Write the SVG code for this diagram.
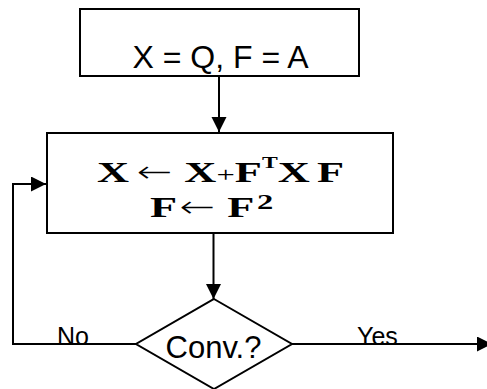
<svg xmlns="http://www.w3.org/2000/svg" width="487" height="389" viewBox="0 0 487 389">
<style>
.shape{fill:#fff;stroke:#000;stroke-width:2}
.conn{fill:none;stroke:#000;stroke-width:2}
.sans{font-family:"Liberation Sans",Arial,sans-serif;fill:#000}
.serif{font-family:"Liberation Serif","Times New Roman",serif;font-weight:bold;fill:#000}
.arrowglyph{font-family:"DejaVu Sans",sans-serif;font-weight:200}
.plus{font-weight:normal}
</style>
<defs>
<marker id="arr" markerUnits="userSpaceOnUse" markerWidth="16" markerHeight="16" refX="15" refY="7.5" orient="auto">
<path d="M0,0 L15,7.5 L0,15 z" fill="#000"/>
</marker>
</defs>
<g id="connectors">
<path class="conn" d="M219,76 L219,132" marker-end="url(#arr)"/>
<path class="conn" d="M213.5,233 L213.5,299" marker-end="url(#arr)"/>
<path class="conn" d="M136,344 L13,344 L13,184 L46,184" marker-end="url(#arr)"/>
<path class="conn" d="M292,344 L492,344" marker-end="url(#arr)"/>
</g>
<g id="init">
<rect class="shape" x="80" y="9" width="279" height="67"/>
<text class="sans" x="220.5" y="68" font-size="32" text-anchor="middle">X = Q, F = A</text>
</g>
<g id="update">
<rect class="shape" x="47" y="133" width="346" height="100"/>
<g transform="scale(1.48,1)">
<text class="serif" y="182" font-size="30"><tspan x="65.5">X</tspan><tspan class="arrowglyph" x="92.5" textLength="24" lengthAdjust="spacingAndGlyphs">←</tspan><tspan x="124.5">X</tspan><tspan class="plus" x="146.3" font-size="22">+</tspan><tspan x="158.7">F</tspan><tspan x="177" dy="-14" font-size="16">T</tspan><tspan x="187.7" dy="14">X</tspan><tspan x="214.2">F</tspan></text>
<text class="serif" y="217" font-size="30"><tspan x="101.4">F</tspan><tspan class="arrowglyph" x="121.5" textLength="24" lengthAdjust="spacingAndGlyphs">←</tspan><tspan x="153.5">F</tspan><tspan x="173.6" dy="-8" font-size="22">2</tspan></text>
</g>
</g>
<g id="decision">
<polygon class="shape" points="214,299 292,344 214,389 136,344"/>
<text class="sans" x="213.5" y="358" font-size="31" text-anchor="middle">Conv.?</text>
</g>
<g id="labels">
<text class="sans" x="57" y="345" font-size="25">No</text>
<text class="sans" x="357" y="345" font-size="25">Yes</text>
</g>
</svg>
